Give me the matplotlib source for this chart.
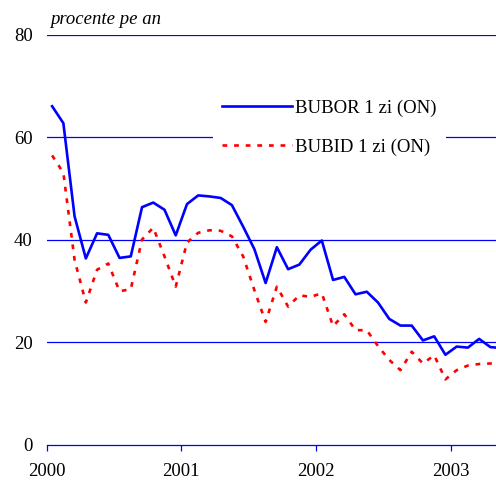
import numpy as np
import matplotlib
matplotlib.use('Agg')
import matplotlib.pyplot as plt

# monthly values, Jan 2000 onwards
years = ['2000', '2001', '2002', '2003']
bubor = [66.1, 62.8, 44.6, 36.4, 41.3, 41.0, 36.5, 36.8, 46.4, 47.3, 45.9, 40.9,
         47.0, 48.7, 48.5, 48.2, 46.8, 42.6, 38.2, 31.6, 38.6, 34.3, 35.2, 38.1,
         39.9, 32.2, 32.8, 29.4, 29.9, 27.8, 24.6, 23.3, 23.3, 20.4, 21.2, 17.6,
         19.2, 19.0, 20.7, 19.1, 18.9]
bubid = [56.5, 53.1, 36.1, 27.8, 34.2, 35.4, 30.0, 30.4, 40.1, 42.4, 36.8, 30.9,
         39.5, 41.4, 41.9, 41.8, 40.7, 36.8, 30.2, 24.0, 30.9, 27.0, 29.2, 28.9,
         29.6, 23.2, 25.5, 22.4, 22.4, 19.3, 16.6, 14.6, 18.2, 15.9, 17.5, 12.8,
         14.6, 15.5, 15.8, 15.9, 16.0]
labels = ['BUBOR 1 zi (ON)', 'BUBID 1 zi (ON)']

plt.rcParams['font.family'] = ['Liberation Serif', 'DejaVu Serif']
fig = plt.figure(figsize=(4.96, 4.86), dpi=100)
ax = fig.add_axes([0.09375, 0.0844, 0.90625, 0.8436])

x = np.arange(len(bubor)) + 0.5
ax.plot(x, bubor, color='#0000ff', lw=1.9, label=labels[0], zorder=3)
ax.plot(x, bubid, color='#ff0000', lw=1.9, ls=(0, (1.8, 2.6)), label=labels[1], zorder=3)

ax.set_xlim(0, 40)
ax.set_ylim(0, 80)
ax.set_yticks([0, 20, 40, 60, 80])
ax.set_xticks([0, 12, 24, 36])
ax.set_xticklabels(years)
for y in [20, 40, 60, 80]:
    ax.axhline(y, color='#0000ff', lw=0.9, zorder=1)
for s in ['top', 'right', 'left']:
    ax.spines[s].set_visible(False)
ax.spines['bottom'].set_color('#0000ff')
ax.spines['bottom'].set_linewidth(0.9)
ax.tick_params(axis='x', colors='#0000ff', direction='out', length=4, width=0.9,
               labelcolor='black', labelsize=13.5, pad=9)
ax.tick_params(axis='y', length=0, labelsize=13.5, pad=10)

ax.text(0.3, 83.0, 'procente pe an', style='italic', fontsize=13.5, va='center')

leg = ax.legend(loc='upper left', bbox_to_anchor=(0.37, 0.865), fontsize=13.5,
                handlelength=3.7, handletextpad=0.2, labelspacing=1.15,
                frameon=True, facecolor='white', edgecolor='none', framealpha=1,
                borderaxespad=0, borderpad=0.5)
leg.set_zorder(5)

fig.savefig('out.png', dpi=100)
